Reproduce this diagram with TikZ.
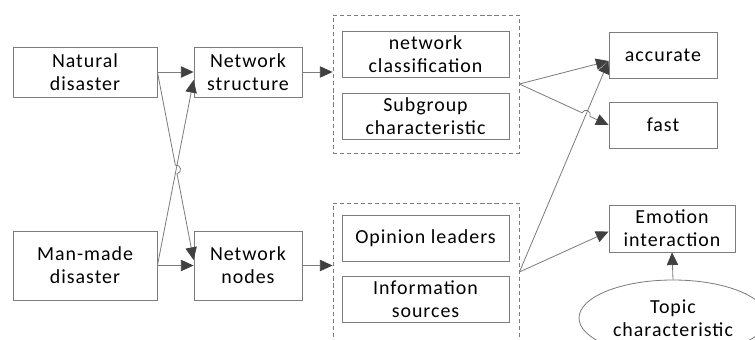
\documentclass[tikz,border=0pt]{standalone}
\usepackage{fontspec}
\setmainfont{Carlito}[LetterSpace=5]
\usetikzlibrary{arrows.meta,calc,shapes.geometric}
\definecolor{linegray}{RGB}{125,125,125}
\definecolor{tipgray}{RGB}{64,64,64}

\begin{document}
\begin{tikzpicture}[x=0.03cm,y=-0.03cm,line width=0.7pt,
                    >={Triangle[length=0.38cm,width=0.34cm,color=tipgray]},
                    box/.style={draw=linegray,align=center,inner sep=0pt,
                                font=\fontsize{17}{19.6}\selectfont},
                    group/.style={draw=linegray,dash pattern=on 3.5pt off 2.5pt,
                                  minimum width=5.58cm,minimum height=4.14cm},
                    link/.style={->,draw=linegray},
                    hop/.style={bend left=90,looseness=1.7}]

  \useasboundingbox (0,0) rectangle (755,340);
  \clip (0,0) rectangle (755,340);

  \node[box,minimum width=4.32cm,minimum height=1.5cm]  (natural)   at (85,72)    {Natural\\disaster};
  \node[box,minimum width=3.24cm,minimum height=1.5cm]  (structure) at (248,72)   {Network\\structure};
  \node[box,minimum width=4.32cm,minimum height=2.07cm] (manmade)   at (85,265.5) {Man-made\\disaster};
  \node[box,minimum width=3.24cm,minimum height=2.07cm] (nodes)     at (248,265.5) {Network\\nodes};

  \node[group] (grp1) at (426,84)  {};
  \node[group] (grp2) at (426,272) {};

  \node[box,minimum width=5.01cm,minimum height=1.38cm] (classif)  at (425.5,54.5)  {network\\classification};
  \node[box,minimum width=5.01cm,minimum height=1.38cm] (subgroup) at (425.5,116)   {Subgroup\\characteristic};
  \node[box,minimum width=5.01cm,minimum height=1.38cm] (leaders)  at (425.5,238)   {Opinion leaders};
  \node[box,minimum width=5.01cm,minimum height=1.38cm] (sources)  at (425.5,299.5) {Information\\sources};

  \node[box,minimum width=3.24cm,minimum height=1.38cm] (accurate) at (663,55)    {accurate};
  \node[box,minimum width=3.24cm,minimum height=1.38cm] (fast)     at (663,125)   {fast};
  \node[box,minimum width=3.78cm,minimum height=1.41cm] (emotion)  at (672,228.5) {Emotion\\interaction};
  \node[box,ellipse,minimum width=5.64cm,minimum height=2.28cm] (topic) at (673,318) {Topic\\characteristic};

  \coordinate (nsin) at ($(structure.west)+(0,8)$);
  \coordinate (nnin) at ($(nodes.west)+(0,-5.5)$);
  \coordinate (acin) at ($(accurate.west)+(0,6)$);
  \coordinate (emin) at ($(emotion.west)+(0,3)$);
  \coordinate (cross1) at (intersection of natural.east--nnin and manmade.east--nsin);
  \coordinate (cross2) at (intersection of grp1.east--fast.west and grp2.east--acin);

  \draw[link] (natural.east) -- (structure.west);
  \draw[link] (manmade.east) -- (nodes.west);
  \draw[link] (manmade.east) -- (nsin);
  \draw[link] (natural.east) -- ($(cross1)!0.13cm!(natural.east)$) to[hop] ($(cross1)!0.13cm!(nnin)$) -- (nnin);

  \draw[link] (structure.east) -- (structure.east -| grp1.west);
  \draw[link] (nodes.east) -- (nodes.east -| grp2.west);

  \draw[link] (grp1.east) -- (acin);
  \draw[link] (grp1.east) -- ($(cross2)!0.13cm!(grp1.east)$) to[hop] ($(cross2)!0.13cm!(fast.west)$) -- (fast.west);
  \draw[link] (grp2.east) -- (acin);
  \draw[link] (grp2.east) -- (emin);
  \draw[link] (topic.north) -- (emotion.south);

\end{tikzpicture}
\end{document}
